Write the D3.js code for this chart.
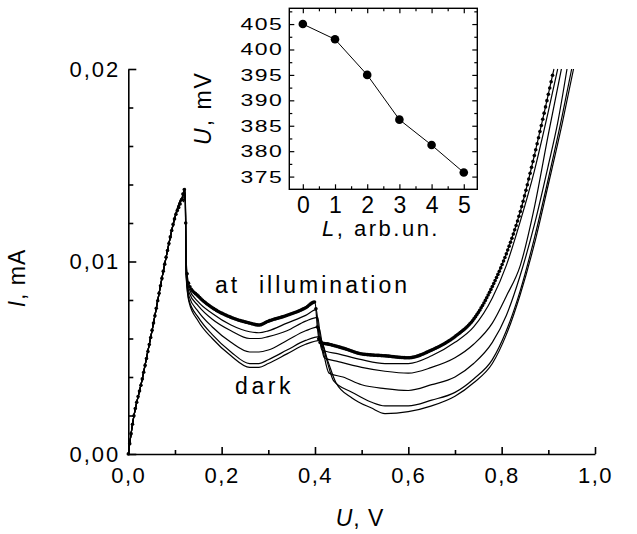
<!DOCTYPE html>
<html>
<head>
<meta charset="utf-8">
<script src="https://cdn.jsdelivr.net/npm/d3@7"></script>
<style>
body { margin: 0; background: #fff; }
text { font-family: Arial, "Liberation Sans", sans-serif; fill: #000; }
</style>
</head>
<body>
<svg id="chart" width="637" height="534"></svg>
<script>
// I-V curves, U in V, I in mA
const riseCommon = [[0,0],[0.01,0.0017],[0.03,0.0039],[0.05,0.0063],[0.08,0.0101],[0.10,0.0123],[0.115,0.0133]];

const curveLight = [[0.118,0.0136],[0.122,0.0138],[0.124,0.0100],[0.13,0.0088],[0.15,0.0082],[0.18,0.0076],[0.22,0.0071],[0.26,0.0068],[0.28,0.0067],[0.30,0.0069],[0.34,0.0072],[0.38,0.0076],[0.40,0.0079],[0.405,0.0066],[0.41,0.0058],[0.43,0.0057],[0.46,0.0055],[0.50,0.0052],[0.55,0.0051],[0.60,0.0050],[0.65,0.0054],[0.70,0.0061],[0.74,0.0070],[0.78,0.0087],[0.81,0.0104],[0.84,0.0126],[0.87,0.0155],[0.89,0.0176],[0.912,0.0200]];

const curveL4 = [[0.118,0.0135],[0.122,0.0137],[0.124,0.0098],[0.13,0.0086],[0.15,0.0079],[0.18,0.0073],[0.22,0.0067],[0.26,0.00635],[0.28,0.0063],[0.30,0.0064],[0.34,0.0068],[0.38,0.0072],[0.403,0.0075],[0.408,0.0063],[0.415,0.0054],[0.45,0.0052],[0.50,0.0049],[0.55,0.0047],[0.60,0.0047],[0.65,0.0051],[0.70,0.0058],[0.74,0.0066],[0.78,0.0081],[0.81,0.0098],[0.84,0.0121],[0.87,0.0147],[0.90,0.0178],[0.920,0.0200]];

const curveL3 = [[0.118,0.0134],[0.122,0.0136],[0.124,0.0096],[0.13,0.0084],[0.15,0.0077],[0.18,0.0070],[0.22,0.0064],[0.26,0.0060],[0.28,0.0060],[0.30,0.0061],[0.34,0.0064],[0.38,0.0069],[0.406,0.0071],[0.412,0.0059],[0.42,0.0050],[0.45,0.0048],[0.50,0.0045],[0.55,0.0043],[0.60,0.0042],[0.65,0.0045],[0.70,0.0050],[0.74,0.0057],[0.78,0.0068],[0.81,0.0082],[0.84,0.0098],[0.87,0.0128],[0.90,0.0166],[0.928,0.0200]];

const curveL2 = [[0.118,0.0133],[0.122,0.0135],[0.124,0.0094],[0.13,0.0082],[0.15,0.0074],[0.18,0.0066],[0.22,0.0058],[0.26,0.0053],[0.28,0.0053],[0.30,0.0054],[0.34,0.0059],[0.38,0.0064],[0.408,0.0066],[0.418,0.0053],[0.43,0.0042],[0.46,0.0040],[0.50,0.0036],[0.55,0.0034],[0.60,0.0033],[0.65,0.0036],[0.70,0.0040],[0.74,0.0047],[0.78,0.0058],[0.81,0.0072],[0.84,0.0093],[0.87,0.0119],[0.90,0.0150],[0.92,0.0172],[0.940,0.0200]];

const curveL1 = [[0.118,0.0132],[0.122,0.0134],[0.124,0.0093],[0.13,0.0080],[0.15,0.0071],[0.18,0.0062],[0.22,0.0053],[0.26,0.0047],[0.28,0.0047],[0.30,0.0049],[0.34,0.0054],[0.38,0.0059],[0.41,0.0061],[0.425,0.0049],[0.44,0.0038],[0.48,0.0032],[0.52,0.0027],[0.55,0.0025],[0.60,0.0025],[0.65,0.0028],[0.70,0.0032],[0.74,0.0039],[0.78,0.0049],[0.81,0.0064],[0.84,0.0085],[0.87,0.0112],[0.90,0.0143],[0.93,0.0176],[0.950,0.0200]];

const curveDark = [[0.118,0.0131],[0.122,0.0133],[0.124,0.0092],[0.13,0.0079],[0.15,0.0069],[0.18,0.0060],[0.22,0.0051],[0.26,0.0045],[0.28,0.0045],[0.30,0.0047],[0.34,0.0052],[0.38,0.0057],[0.412,0.0059],[0.428,0.0048],[0.445,0.0037],[0.48,0.0029],[0.52,0.0024],[0.55,0.0021],[0.60,0.0022],[0.65,0.0025],[0.70,0.0030],[0.74,0.0037],[0.78,0.0047],[0.81,0.0062],[0.84,0.0083],[0.87,0.0109],[0.90,0.0140],[0.93,0.0172],[0.954,0.0200]];

const thinCurves = [curveDark, curveL1, curveL2, curveL3, curveL4];

// inset: photovoltage U (mV) vs illumination level L
const insetL = [0, 1, 2, 3, 4, 5];
const insetU = [405.0, 402.0, 395.0, 386.2, 381.2, 375.8];

const xMajor = [0, 0.2, 0.4, 0.6, 0.8, 1.0];
const xMinor = [0.1, 0.3, 0.5, 0.7, 0.9];
const yMajor = [0, 0.01, 0.02];
const yMinor = [0.002, 0.004, 0.006, 0.008, 0.012, 0.014, 0.016, 0.018];

const svg = d3.select("#chart");
const comma = f => (d => f(d).replace(".", ","));
const FONT = "Arial, 'Liberation Sans', sans-serif";

// main scales
const x = d3.scaleLinear().domain([0, 1]).range([128.3, 595]);
const y = d3.scaleLinear().domain([0, 0.02]).range([454, 69]);

// axes
const gx = svg.append("g").attr("transform", "translate(0,454)")
    .call(d3.axisBottom(x).tickValues(xMajor).tickFormat(comma(d3.format(".1f")))
        .tickSizeInner(-7).tickSizeOuter(0).tickPadding(13));
svg.append("g").attr("transform", "translate(0,454)")
    .call(d3.axisBottom(x).tickValues(xMinor).tickFormat("").tickSizeInner(-4).tickSizeOuter(0))
    .select(".domain").remove();
const gy = svg.append("g").attr("transform", "translate(128.3,0)")
    .call(d3.axisLeft(y).tickValues(yMajor).tickFormat(comma(d3.format(".2f")))
        .tickSizeInner(-8).tickSizeOuter(0).tickPadding(8));
svg.append("g").attr("transform", "translate(128.3,0)")
    .call(d3.axisLeft(y).tickValues(yMinor).tickFormat("").tickSizeInner(-5).tickSizeOuter(0))
    .select(".domain").remove();

svg.selectAll(".domain, .tick line").attr("stroke", "#000").attr("stroke-width", 1.6);
gx.selectAll(".tick text").attr("font-size", 22).attr("font-family", FONT).style("letter-spacing", "1.5px");
gy.selectAll(".tick text").attr("font-size", 22).attr("font-family", FONT).style("letter-spacing", "2px");

// axis titles
const xt = svg.append("text").attr("x", 360).attr("y", 526).attr("text-anchor", "middle")
    .attr("font-size", 23).style("letter-spacing", "1px");
xt.append("tspan").attr("font-style", "italic").text("U");
xt.append("tspan").text(", V");
const yt = svg.append("text").attr("transform", "translate(25,278) rotate(-90)")
    .attr("text-anchor", "middle").attr("font-size", 23).style("letter-spacing", "1px");
yt.append("tspan").attr("font-style", "italic").text("I");
yt.append("tspan").text(", mA");

// curves
const line = d3.line().x(d => x(d[0])).y(d => y(d[1])).curve(d3.curveMonotoneX);
svg.append("g").selectAll("path").data(thinCurves).enter().append("path")
    .attr("d", d => line(riseCommon.concat(d)))
    .attr("fill", "none").attr("stroke", "#000").attr("stroke-width", 1.2);

const lightData = riseCommon.concat(curveLight);
const lightPath = svg.append("path")
    .attr("d", line(lightData))
    .attr("fill", "none").attr("stroke", "#000").attr("stroke-width", 1.2);

// measured points of the illuminated curve: markers at even voltage steps
const node = lightPath.node();
const len = node.getTotalLength();
function pointAtX(px) {
  let lo = 0, hi = len;
  for (let k = 0; k < 30; k++) {
    const mid = (lo + hi) / 2;
    if (node.getPointAtLength(mid).x < px) lo = mid; else hi = mid;
  }
  return node.getPointAtLength(hi);
}
const uMax = lightData[lightData.length - 1][0];
const dots = d3.range(0, uMax, 0.003).map(u => pointAtX(x(u)));
svg.append("g").selectAll("circle").data(dots).enter().append("circle")
    .attr("cx", d => d.x).attr("cy", d => d.y).attr("r", 1.8).attr("fill", "#000");

// annotations
svg.append("text").attr("x", 215).attr("y", 293).attr("font-size", 23)
    .style("letter-spacing", "3px").attr("xml:space", "preserve").text("at  illumination");
svg.append("text").attr("x", 235).attr("y", 394).attr("font-size", 23)
    .style("letter-spacing", "3.6px").text("dark");

// inset
const xi = d3.scaleLinear().domain([-0.42, 5.42]).range([289.3, 477.3]);
const yi = d3.scaleLinear().domain([372.5, 408.1]).range([189.3, 8.3]);
const inset = svg.append("g");
inset.append("rect").attr("x", 289.3).attr("y", 8.3).attr("width", 188).attr("height", 181)
    .attr("fill", "#fff").attr("stroke", "#000").attr("stroke-width", 1.4);

const iX = [0, 1, 2, 3, 4, 5];
const iXmin = [0.5, 1.5, 2.5, 3.5, 4.5];
const iY = [375, 380, 385, 390, 395, 400, 405];
const iYmin = [377.5, 382.5, 387.5, 392.5, 397.5, 402.5, 407.5];

const gix = inset.append("g").attr("transform", "translate(0,189.3)")
    .call(d3.axisBottom(xi).tickValues(iX).tickFormat(d3.format("d"))
        .tickSizeInner(-5).tickSizeOuter(0).tickPadding(7));
inset.append("g").attr("transform", "translate(0,189.3)")
    .call(d3.axisBottom(xi).tickValues(iXmin).tickFormat("").tickSizeInner(-3).tickSizeOuter(0));
inset.append("g").attr("transform", "translate(0,8.3)")
    .call(d3.axisTop(xi).tickValues(iX).tickFormat("").tickSizeInner(-5).tickSizeOuter(0));
inset.append("g").attr("transform", "translate(0,8.3)")
    .call(d3.axisTop(xi).tickValues(iXmin).tickFormat("").tickSizeInner(-3).tickSizeOuter(0));
const giy = inset.append("g").attr("transform", "translate(289.3,0)")
    .call(d3.axisLeft(yi).tickValues(iY).tickFormat(d3.format("d"))
        .tickSizeInner(-5).tickSizeOuter(0).tickPadding(6));
inset.append("g").attr("transform", "translate(289.3,0)")
    .call(d3.axisLeft(yi).tickValues(iYmin).tickFormat("").tickSizeInner(-3).tickSizeOuter(0));
inset.append("g").attr("transform", "translate(477.3,0)")
    .call(d3.axisRight(yi).tickValues(iY).tickFormat("").tickSizeInner(-5).tickSizeOuter(0));
inset.append("g").attr("transform", "translate(477.3,0)")
    .call(d3.axisRight(yi).tickValues(iYmin).tickFormat("").tickSizeInner(-3).tickSizeOuter(0));

inset.selectAll(".domain").remove();
inset.selectAll(".tick line").attr("stroke", "#000").attr("stroke-width", 1.2);
gix.selectAll(".tick text").attr("font-size", 23).attr("font-family", FONT);
giy.selectAll(".tick text").attr("font-size", 23).attr("font-family", FONT)
    .style("letter-spacing", "1.5px").attr("transform", "scale(1,0.74)");

const insetData = insetL.map((l, i) => [l, insetU[i]]);
inset.append("path")
    .attr("d", d3.line().x(d => xi(d[0])).y(d => yi(d[1]))(insetData))
    .attr("fill", "none").attr("stroke", "#000").attr("stroke-width", 1);
inset.append("g").selectAll("circle").data(insetData).enter().append("circle")
    .attr("cx", d => xi(d[0])).attr("cy", d => yi(d[1])).attr("r", 4.3).attr("fill", "#000");

const ixt = inset.append("text").attr("x", 381).attr("y", 236).attr("text-anchor", "middle")
    .attr("font-size", 22).style("letter-spacing", "2.5px");
ixt.append("tspan").attr("font-style", "italic").text("L");
ixt.append("tspan").text(", arb.un.");
const iyt = inset.append("text").attr("transform", "translate(211,108) rotate(-90)")
    .attr("text-anchor", "middle").attr("font-size", 23).style("letter-spacing", "2px");
iyt.append("tspan").attr("font-style", "italic").text("U");
iyt.append("tspan").text(", mV");
</script>
</body>
</html>
